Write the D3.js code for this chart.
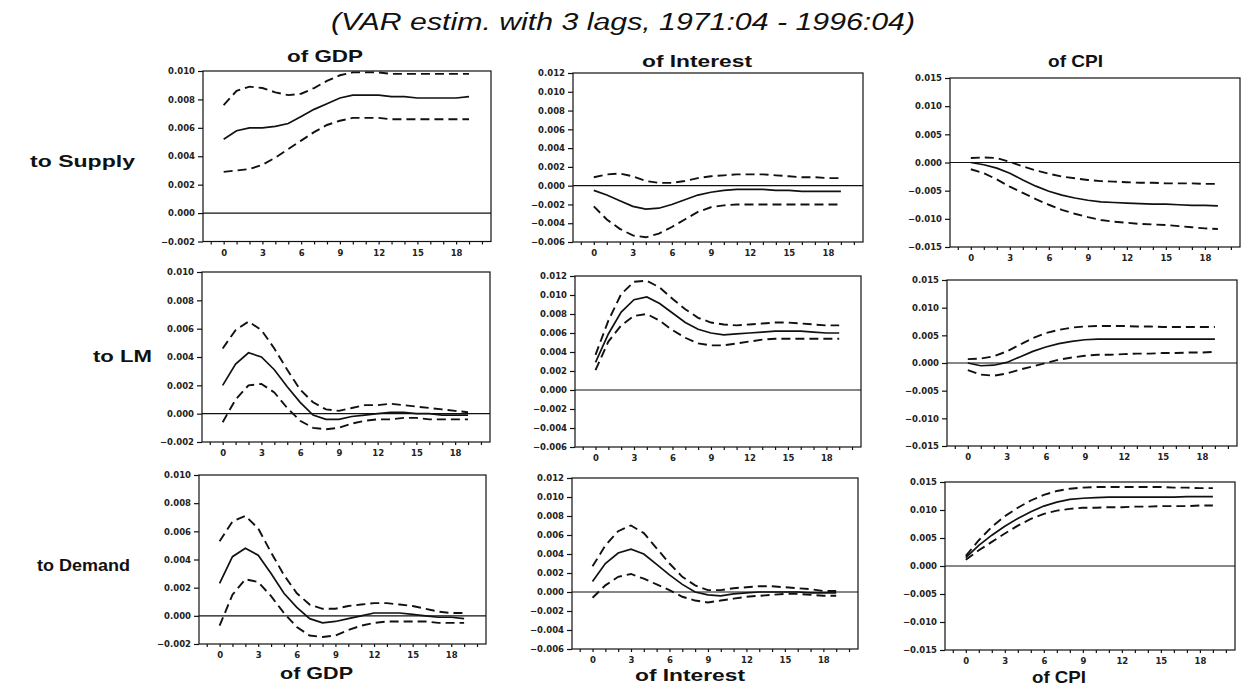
<!DOCTYPE html>
<html>
<head>
<meta charset="utf-8">
<script src="https://cdn.jsdelivr.net/npm/d3@7"></script>
<style>
  html, body { margin: 0; padding: 0; background: #fff; }
  svg { display: block; }
</style>
</head>
<body>
<svg id="chart" width="1245" height="690"></svg>
<script>
// Impulse responses, horizons 0..19 quarters
const horizons = d3.range(20);
const shocks = ["to Supply", "to LM", "to Demand"];
const responses = ["of GDP", "of Interest", "of CPI"];
const xTicks = [0, 3, 6, 9, 12, 15, 18];
const yTicksGdp = [-0.002, 0.000, 0.002, 0.004, 0.006, 0.008, 0.010];
const yTicksInterest = [-0.006, -0.004, -0.002, 0.000, 0.002, 0.004, 0.006, 0.008, 0.010, 0.012];
const yTicksCpi = [-0.015, -0.010, -0.005, 0.000, 0.005, 0.010, 0.015];

// Supply shock
const supplyGdp   = [0.0052,0.0058,0.0060,0.0060,0.0061,0.0063,0.0068,0.0073,0.0077,0.0081,0.0083,0.0083,0.0083,0.0082,0.0082,0.0081,0.0081,0.0081,0.0081,0.0082];
const supplyGdpHi = [0.0076,0.0086,0.0089,0.0088,0.0085,0.0083,0.0084,0.0088,0.0093,0.0097,0.0099,0.0099,0.0099,0.0098,0.0098,0.0098,0.0098,0.0098,0.0098,0.0098];
const supplyGdpLo = [0.0029,0.0030,0.0031,0.0034,0.0039,0.0045,0.0051,0.0057,0.0062,0.0065,0.0067,0.0067,0.0067,0.0066,0.0066,0.0066,0.0066,0.0066,0.0066,0.0066];
const supplyInt   = [-0.0005,-0.0010,-0.0016,-0.0022,-0.0025,-0.0024,-0.0020,-0.0015,-0.0010,-0.0007,-0.0005,-0.0004,-0.0004,-0.0004,-0.0005,-0.0005,-0.0006,-0.0006,-0.0006,-0.0006];
const supplyIntHi = [0.0009,0.0012,0.0013,0.0010,0.0005,0.0003,0.0003,0.0005,0.0008,0.0010,0.0011,0.0012,0.0012,0.0012,0.0011,0.0010,0.0009,0.0009,0.0008,0.0008];
const supplyIntLo = [-0.0022,-0.0036,-0.0046,-0.0053,-0.0055,-0.0051,-0.0044,-0.0036,-0.0028,-0.0023,-0.0021,-0.0020,-0.0020,-0.0020,-0.0020,-0.0020,-0.0020,-0.0020,-0.0020,-0.0020];
const supplyCpi   = [0.0000,-0.0004,-0.0010,-0.0019,-0.0031,-0.0042,-0.0051,-0.0058,-0.0063,-0.0067,-0.0070,-0.0071,-0.0072,-0.0073,-0.0074,-0.0074,-0.0075,-0.0076,-0.0076,-0.0077];
const supplyCpiHi = [0.0008,0.0009,0.0008,0.0001,-0.0007,-0.0014,-0.0020,-0.0025,-0.0028,-0.0031,-0.0033,-0.0034,-0.0035,-0.0036,-0.0036,-0.0037,-0.0037,-0.0037,-0.0038,-0.0038];
const supplyCpiLo = [-0.0012,-0.0019,-0.0030,-0.0043,-0.0054,-0.0065,-0.0075,-0.0084,-0.0091,-0.0097,-0.0102,-0.0105,-0.0107,-0.0109,-0.0110,-0.0111,-0.0113,-0.0115,-0.0117,-0.0118];

// LM shock
const lmGdp   = [0.0020,0.0035,0.0043,0.0040,0.0031,0.0019,0.0008,-0.0001,-0.0004,-0.0004,-0.0002,-0.0001,0.0000,0.0001,0.0001,0.0000,0.0000,-0.0001,-0.0001,-0.0001];
const lmGdpHi = [0.0046,0.0059,0.0065,0.0059,0.0046,0.0031,0.0017,0.0008,0.0003,0.0002,0.0004,0.0006,0.0006,0.0007,0.0006,0.0005,0.0004,0.0003,0.0002,0.0001];
const lmGdpLo = [-0.0006,0.0010,0.0020,0.0021,0.0015,0.0004,-0.0005,-0.0010,-0.0011,-0.0010,-0.0007,-0.0005,-0.0004,-0.0004,-0.0003,-0.0003,-0.0004,-0.0004,-0.0004,-0.0004];
const lmInt   = [0.0029,0.0059,0.0082,0.0095,0.0098,0.0091,0.0081,0.0071,0.0064,0.0060,0.0058,0.0059,0.0060,0.0061,0.0062,0.0062,0.0062,0.0061,0.0060,0.0060];
const lmIntHi = [0.0037,0.0073,0.0101,0.0114,0.0115,0.0108,0.0096,0.0085,0.0076,0.0071,0.0069,0.0068,0.0069,0.0070,0.0071,0.0071,0.0070,0.0069,0.0068,0.0068];
const lmIntLo = [0.0021,0.0051,0.0068,0.0078,0.0080,0.0073,0.0063,0.0055,0.0049,0.0047,0.0047,0.0049,0.0051,0.0053,0.0054,0.0054,0.0054,0.0054,0.0054,0.0054];
const lmCpi   = [0.0000,-0.0005,-0.0004,0.0001,0.0011,0.0021,0.0029,0.0035,0.0039,0.0042,0.0043,0.0043,0.0043,0.0043,0.0043,0.0043,0.0043,0.0043,0.0043,0.0043];
const lmCpiHi = [0.0007,0.0008,0.0012,0.0021,0.0033,0.0045,0.0054,0.0060,0.0064,0.0066,0.0067,0.0067,0.0067,0.0066,0.0066,0.0065,0.0065,0.0065,0.0065,0.0065];
const lmCpiLo = [-0.0013,-0.0021,-0.0023,-0.0019,-0.0012,-0.0006,0.0000,0.0006,0.0010,0.0013,0.0015,0.0015,0.0016,0.0017,0.0017,0.0018,0.0018,0.0019,0.0019,0.0020];

// Demand shock
const demandGdp   = [0.0023,0.0042,0.0048,0.0043,0.0030,0.0016,0.0006,-0.0002,-0.0005,-0.0004,-0.0002,0.0000,0.0002,0.0002,0.0002,0.0001,0.0000,-0.0001,-0.0001,-0.0002];
const demandGdpHi = [0.0053,0.0067,0.0071,0.0062,0.0045,0.0029,0.0016,0.0008,0.0005,0.0005,0.0007,0.0008,0.0009,0.0009,0.0008,0.0007,0.0005,0.0003,0.0002,0.0002];
const demandGdpLo = [-0.0007,0.0015,0.0026,0.0024,0.0014,0.0002,-0.0008,-0.0014,-0.0015,-0.0014,-0.0010,-0.0007,-0.0005,-0.0004,-0.0004,-0.0004,-0.0004,-0.0005,-0.0005,-0.0005];
const demandInt   = [0.0011,0.0030,0.0041,0.0045,0.0040,0.0029,0.0018,0.0008,0.0000,-0.0003,-0.0004,-0.0002,-0.0001,0.0000,0.0000,0.0000,0.0000,-0.0001,-0.0001,-0.0001];
const demandIntHi = [0.0027,0.0049,0.0064,0.0070,0.0062,0.0046,0.0030,0.0016,0.0007,0.0002,0.0002,0.0004,0.0005,0.0006,0.0006,0.0005,0.0004,0.0003,0.0001,0.0001];
const demandIntLo = [-0.0006,0.0007,0.0016,0.0019,0.0014,0.0008,0.0002,-0.0005,-0.0009,-0.0011,-0.0009,-0.0007,-0.0005,-0.0004,-0.0003,-0.0002,-0.0002,-0.0003,-0.0004,-0.0004];
const demandCpi   = [0.0015,0.0037,0.0055,0.0071,0.0085,0.0097,0.0107,0.0114,0.0119,0.0121,0.0122,0.0123,0.0123,0.0123,0.0123,0.0123,0.0123,0.0124,0.0124,0.0124];
const demandCpiHi = [0.0018,0.0046,0.0070,0.0089,0.0104,0.0117,0.0127,0.0134,0.0138,0.0140,0.0141,0.0141,0.0141,0.0141,0.0141,0.0141,0.0140,0.0140,0.0139,0.0139];
const demandCpiLo = [0.0011,0.0028,0.0043,0.0058,0.0072,0.0084,0.0093,0.0099,0.0102,0.0104,0.0104,0.0105,0.0105,0.0106,0.0106,0.0107,0.0107,0.0107,0.0108,0.0108];

// Grid of panels: row = shock, column = responding variable
const panels = [
  { row: 0, col: 0, mid: supplyGdp, hi: supplyGdpHi, lo: supplyGdpLo, box: [203, 71, 491, 241.5] },
  { row: 0, col: 1, mid: supplyInt, hi: supplyIntHi, lo: supplyIntLo, box: [573, 73, 863, 242] },
  { row: 0, col: 2, mid: supplyCpi, hi: supplyCpiHi, lo: supplyCpiLo, box: [950, 78, 1240, 247] },
  { row: 1, col: 0, mid: lmGdp, hi: lmGdpHi, lo: lmGdpLo, box: [202, 272, 490, 442] },
  { row: 1, col: 1, mid: lmInt, hi: lmIntHi, lo: lmIntLo, box: [575, 276, 861, 447] },
  { row: 1, col: 2, mid: lmCpi, hi: lmCpiHi, lo: lmCpiLo, box: [947, 280, 1237, 446] },
  { row: 2, col: 0, mid: demandGdp, hi: demandGdpHi, lo: demandGdpLo, box: [199, 475, 486, 644] },
  { row: 2, col: 1, mid: demandInt, hi: demandIntHi, lo: demandIntLo, box: [572, 478, 858, 649] },
  { row: 2, col: 2, mid: demandCpi, hi: demandCpiHi, lo: demandCpiLo, box: [945, 482, 1235, 650] }
];
const yTicksByCol = [yTicksGdp, yTicksInterest, yTicksCpi];

const svg = d3.select("#chart");
svg.append("rect").attr("width", 1245).attr("height", 690).attr("fill", "#fff");

const ink = "#111";
const fmt = d3.format(".3f");

// Wide bold heading text, stretched to a fixed width
function wideText(x, y, str, width, size, opts = {}) {
  return svg.append("text")
    .attr("x", x).attr("y", y)
    .attr("font-family", "'Liberation Sans', Arial, sans-serif")
    .attr("font-size", size)
    .attr("font-weight", opts.weight || "bold")
    .attr("font-style", opts.style || "normal")
    .attr("fill", ink)
    .attr("textLength", width)
    .attr("lengthAdjust", "spacingAndGlyphs")
    .text(str);
}

wideText(331, 30, "(VAR estim. with 3 lags, 1971:04 - 1996:04)", 584, 23, { weight: "normal", style: "italic" });

// Column headings (top and bottom)
const topHeads = [[287, 62, 76], [642, 67, 110], [1048, 67, 55]];
const bottomHeads = [[280, 679, 73], [635, 681, 110], [1032, 683, 54]];
responses.forEach((r, i) => {
  wideText(topHeads[i][0], topHeads[i][1], r, topHeads[i][2], 17);
  wideText(bottomHeads[i][0], bottomHeads[i][1], r, bottomHeads[i][2], 17);
});

// Row headings
const rowHeads = [[30, 167, 105], [93, 362, 59], [37, 571, 93]];
shocks.forEach((s, i) => wideText(rowHeads[i][0], rowHeads[i][1], s, rowHeads[i][2], 17));

panels.forEach(p => {
  const [x0, y0, x1, y1] = p.box;
  const yTicks = yTicksByCol[p.col];
  const x = d3.scaleLinear().domain([-1.6, 20.7]).range([x0, x1]);
  const y = d3.scaleLinear().domain(d3.extent(yTicks)).range([y1, y0]);
  const g = svg.append("g");

  // y axis
  const yAxis = d3.axisLeft(y).tickValues(yTicks).tickFormat(fmt).tickSize(5).tickPadding(3);
  const ya = g.append("g").attr("transform", `translate(${x0},0)`).call(yAxis);
  // x axis: minor ticks every quarter, labels every third
  const xa = g.append("g").attr("transform", `translate(0,${y1})`)
    .call(d3.axisBottom(x).tickValues(d3.range(-1, 21)).tickSize(3)
      .tickFormat(d => xTicks.includes(d) ? d : "").tickPadding(5));
  [ya, xa].forEach(a => {
    a.select(".domain").remove();
    a.selectAll("line").attr("stroke", ink).attr("stroke-width", 1.2);
    a.selectAll("text")
      .attr("font-family", "'DejaVu Sans', sans-serif")
      .attr("font-size", 8.5).attr("font-weight", "bold").attr("fill", "#222");
  });

  // frame
  g.append("rect")
    .attr("x", x0).attr("y", y0).attr("width", x1 - x0).attr("height", y1 - y0)
    .attr("fill", "none").attr("stroke", ink).attr("stroke-width", 1.2);

  // zero line
  g.append("line")
    .attr("x1", x0).attr("x2", x1).attr("y1", y(0)).attr("y2", y(0))
    .attr("stroke", ink).attr("stroke-width", 1.2);

  const line = d3.line().x((d, i) => x(horizons[i])).y(d => y(d));
  [p.hi, p.lo].forEach(band => {
    g.append("path").attr("d", line(band))
      .attr("fill", "none").attr("stroke", ink).attr("stroke-width", 1.9)
      .attr("stroke-dasharray", "9,5");
  });
  g.append("path").attr("d", line(p.mid))
    .attr("fill", "none").attr("stroke", ink).attr("stroke-width", 1.7);
});
</script>
</body>
</html>
